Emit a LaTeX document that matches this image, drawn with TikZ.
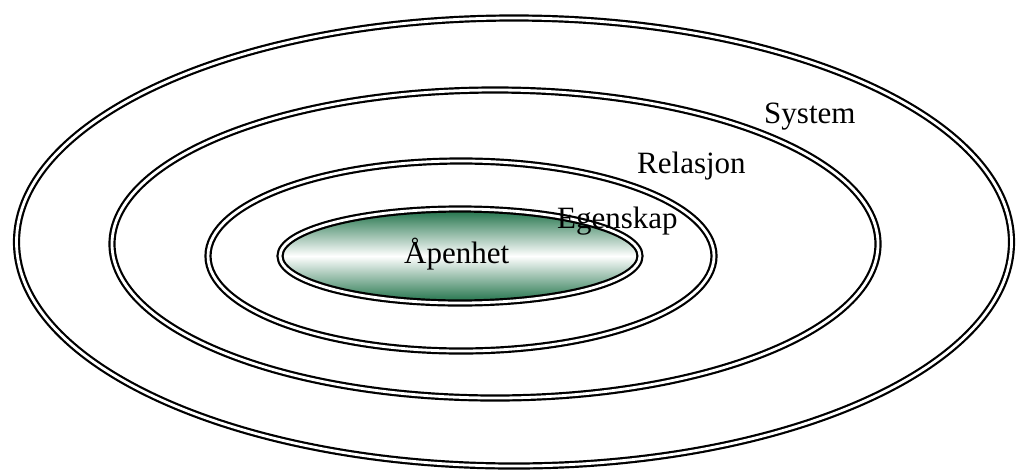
\documentclass[tikz,border=0pt]{standalone}
\usepackage{fontspec}
\setmainfont{Liberation Serif}
\definecolor{leafgreen}{RGB}{38,118,78}
\begin{document}
\begin{tikzpicture}[x=1pt,y=-1pt,
  ring/.style={draw=black,line width=2.2pt,double=white,double distance=2.8pt},
  lbl/.style={anchor=base west,inner sep=0pt,font=\fontsize{31}{37}\selectfont}]
\useasboundingbox (0,0) rectangle (1016,472);
% nested rings, outermost first
\draw[ring] (514,242) ellipse (497.5 and 224);
\draw[ring] (495,244) ellipse (383 and 154);
\draw[ring] (461,256) ellipse (253 and 95);
% shaded core with its own double outline
\shade[top color=leafgreen,bottom color=leafgreen,middle color=white]
  (460,256) ellipse (178 and 45);
\draw[ring] (460,256) ellipse (180 and 47);
% labels
\node[lbl] (sys) at (764,123) {System};
\node[lbl] (rel) at (637,173) {Relasjon};
\node[lbl] (ege) at (557,228) {Egenskap};
\node[lbl] (ape) at (404,263) {Åpenhet};
\end{tikzpicture}
\end{document}
